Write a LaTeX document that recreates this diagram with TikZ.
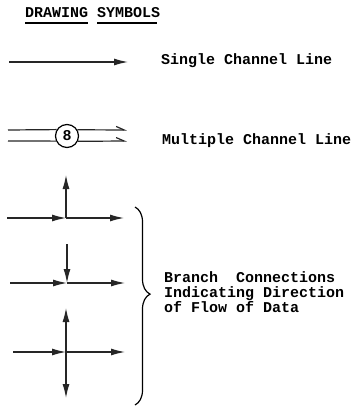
\documentclass[tikz,border=0pt]{standalone}
\usepackage{fontspec}
\setmainfont{Liberation Mono}
\usetikzlibrary{arrows.meta,decorations.pathreplacing}
\begin{document}
\begin{tikzpicture}[x=1pt,y=-1pt,
  line/.style={line width=1.2pt, black!85},
  tip/.style={-{Latex[length=14pt,width=7pt]}},
  opentip/.style={-{Straight Barb[harpoon,length=8pt,width=7pt]}},
  lbl/.style={anchor=base west, inner sep=0pt, font=\fontsize{15}{15}\selectfont\bfseries},
  ul/.style={line width=2pt}]
\useasboundingbox (0,0) rectangle (355,406);
% title
\node[lbl] (title) at (25,18) {DRAWING SYMBOLS};
\coordinate (u1a) at (25,23.5); \coordinate (u1b) at (88,23.5);
\coordinate (u2a) at (97,23.5); \coordinate (u2b) at (157,23.5);
\draw[ul] (u1a) -- (u1b);
\draw[ul] (u2a) -- (u2b);
% single channel
\coordinate (s1) at (9,62); \coordinate (s2) at (128,62);
\draw[line,tip] (s1) -- (s2);
\node[lbl] (sl) at (161,64.5) {Single Channel Line};
% multiple channel
\node[circle,draw,line width=1.2pt,minimum size=23pt,inner sep=0pt,font=\fontsize{15}{15}\selectfont\bfseries] (m) at (67,136) {8};
\coordinate (ml1) at (8,130); \coordinate (ml2) at (8,141);
\coordinate (mr1) at (127,130); \coordinate (mr2) at (127,141);
\draw[line] (ml1) -- (m.148.5);
\draw[line] (ml2) -- (m.205.8);
\draw[line,opentip] (m.31.5) -- (mr1);
\draw[line,opentip] (m.334.2) -- (mr2);
\node[lbl] (mlab) at (162,144) {Multiple Channel Line};
% branch 1
\coordinate (b1l) at (7,218); \coordinate (b1j) at (66,218);
\coordinate (b1r) at (124,218); \coordinate (b1t) at (66,175);
\draw[line,tip] (b1l) -- (b1j);
\draw[line,tip] (b1j) -- (b1r);
\draw[line,tip] (b1j) -- (b1t);
% branch 2
\coordinate (b2l) at (10,283); \coordinate (b2j) at (67,283);
\coordinate (b2r) at (125,283); \coordinate (b2t) at (67,244);
\draw[line,tip] (b2l) -- (b2j);
\draw[line,tip] (b2j) -- (b2r);
\draw[line,tip] (b2t) -- (b2j);
% branch 3
\coordinate (b3l) at (13,352); \coordinate (b3j) at (66,352);
\coordinate (b3r) at (125,352); \coordinate (b3t) at (66,308);
\coordinate (b3b) at (66,398);
\draw[line,tip] (b3l) -- (b3j);
\draw[line,tip] (b3j) -- (b3r);
\draw[line,tip] (b3j) -- (b3t);
\draw[line,tip] (b3j) -- (b3b);
% brace
\coordinate (br0) at (135,207); \coordinate (br1) at (135,405);
\draw[line width=1.2pt,decorate,decoration={brace,amplitude=15pt,aspect=0.44}] (br0) -- (br1);
\node[lbl] (bt1) at (164,282) {Branch\ \ Connections};
\node[lbl] (bt2) at (164,297) {Indicating Direction};
\node[lbl] (bt3) at (164,312) {of Flow of Data};
\end{tikzpicture}
\end{document}
